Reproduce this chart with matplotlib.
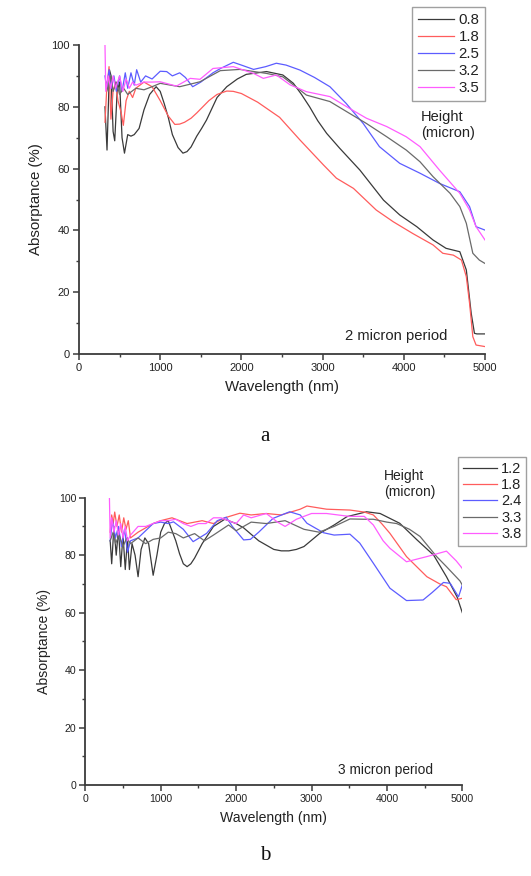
import matplotlib
matplotlib.use("Agg")
import matplotlib.pyplot as plt
from matplotlib.ticker import MultipleLocator

plt.rcParams['font.family'] = ['Liberation Sans', 'DejaVu Sans']

# ---------------- Panel a: 2 micron period ----------------
a_labels = ["0.8", "1.8", "2.5", "3.2", "3.5"]
a_h08_x = [320, 345, 375, 395, 420, 440, 470, 500, 530, 560, 600, 640, 680, 740, 800, 870, 950, 1000, 1050, 1100, 1150, 1220, 1280, 1330, 1380, 1450, 1510, 1570, 1700, 1820, 1950, 2060, 2310, 2510, 2640, 2740, 2840, 2940, 3050, 3210, 3460, 3750, 3950, 4160, 4360, 4520, 4690, 4770, 4830, 4870, 4900, 5000]
a_h08_y = [80, 66, 92, 90, 72, 69, 85, 88, 70, 65, 71, 70.5, 71, 73, 79, 84, 86.5, 85, 81, 76.5, 71, 66.8, 65, 65.5, 67, 70.5, 73, 75.7, 83, 86.5, 89, 90.5, 91.4, 90.3, 87.6, 84, 80, 75.5, 71.4, 66.6, 59.5, 49.8, 45, 41.2, 36.9, 34.2, 33.1, 27.2, 13.2, 6.7, 6.5, 6.5]
a_h18_x = [320, 340, 370, 393, 420, 450, 480, 520, 546, 580, 620, 660, 700, 800, 900, 1000, 1050, 1100, 1180, 1240, 1300, 1380, 1450, 1600, 1700, 1820, 1900, 2000, 2200, 2470, 2720, 3010, 3170, 3380, 3660, 3870, 4110, 4360, 4480, 4610, 4710, 4770, 4810, 4850, 4890, 5000]
a_h18_y = [75, 85, 93, 76, 85, 88, 82, 78, 74, 82, 85, 83, 86, 88, 86.5, 82, 79.5, 77, 74.3, 74.4, 75, 76.3, 78, 82, 84, 85.1, 85, 84.3, 81.5, 76.6, 69.3, 61.2, 56.9, 53.6, 46.6, 42.8, 39, 35.3, 32.6, 32, 30.4, 25, 16.4, 5.6, 2.9, 2.4]
a_h25_x = [320, 340, 370, 400, 430, 460, 500, 530, 570, 600, 640, 680, 710, 760, 820, 900, 1000, 1080, 1150, 1240, 1310, 1400, 1500, 1650, 1750, 1900, 2000, 2150, 2300, 2430, 2550, 2720, 2900, 3090, 3290, 3500, 3700, 3950, 4200, 4440, 4690, 4810, 4890, 5000]
a_h25_y = [90, 86, 92, 86, 90, 85, 90, 85, 91, 86, 91, 87, 92, 88, 90, 89, 91.5, 91.4, 90, 91, 89.5, 86.5, 88, 91, 92.5, 94.4, 93.5, 92.1, 93, 94.1, 93.5, 91.9, 89.5, 86.5, 81.1, 74.6, 67.1, 61.7, 58.5, 55.2, 52.5, 47.7, 41.2, 40.1]
a_h32_x = [330, 360, 390, 420, 460, 500, 550, 600, 650, 700, 800, 900, 1000, 1240, 1490, 1740, 1980, 2310, 2510, 2640, 2800, 3090, 3330, 3540, 3790, 4030, 4200, 4360, 4570, 4690, 4770, 4850, 4930, 5000]
a_h32_y = [88, 85, 90, 85, 88, 84, 86, 84, 85, 86, 85.5, 86.5, 87.6, 86.5, 88.1, 91.7, 92.1, 90.8, 89.7, 87.1, 83.8, 81.7, 77.9, 74.6, 70.3, 66, 62.2, 57.4, 52, 47.7, 42.3, 32.6, 30.4, 29.3]
a_h35_x = [320, 330, 360, 390, 420, 450, 500, 540, 580, 620, 660, 700, 800, 900, 1000, 1200, 1370, 1490, 1650, 1900, 2150, 2270, 2430, 2600, 2800, 3090, 3330, 3540, 3790, 4030, 4200, 4440, 4690, 4810, 4890, 5000]
a_h35_y = [100, 85, 90, 86, 90, 86, 90, 85, 89, 86, 88, 87, 88, 88, 88.1, 86.7, 89.2, 88.9, 92.4, 93, 90.8, 89.2, 90.3, 87.1, 84.9, 83.3, 79.5, 76.3, 73.6, 70.3, 67.1, 59.5, 52, 46.6, 41.2, 36.9]

# ---------------- Panel b: 3 micron period ----------------
b_labels = ["1.2", "1.8", "2.4", "3.3", "3.8"]
b_h12_x = [330, 350, 380, 410, 440, 470, 500, 530, 560, 585, 620, 660, 700, 740, 790, 840, 900, 950, 1000, 1050, 1100, 1200, 1250, 1300, 1350, 1400, 1450, 1550, 1700, 1850, 2000, 2100, 2300, 2500, 2600, 2700, 2800, 2900, 3110, 3300, 3470, 3730, 3910, 4170, 4400, 4620, 4790, 4930, 5000]
b_h12_y = [85, 77, 90, 80, 89, 76, 87, 75, 86, 75, 84, 80, 72.5, 82, 86, 84, 73, 80, 88, 91, 92, 85, 80.5, 77, 76, 77, 79, 84, 90, 92.5, 91, 89.5, 85, 82, 81.5, 81.5, 82, 83, 87.6, 90.5, 93.4, 95.1, 94.5, 91.1, 85.3, 80, 72.5, 65.5, 60]
b_h18_x = [330, 350, 370, 390, 420, 450, 480, 510, 540, 570, 600, 650, 700, 800, 900, 1000, 1150, 1350, 1550, 1700, 1850, 2050, 2200, 2400, 2600, 2850, 2940, 3200, 3510, 3700, 3820, 3930, 4040, 4260, 4530, 4700, 4790, 4920, 5000]
b_h18_y = [88, 94, 91, 95, 90, 94, 88, 93, 89, 92, 86, 87, 88, 89.5, 91, 92, 93, 91, 92, 91, 93, 94.6, 94, 94.5, 94, 96, 97.1, 96, 95.7, 95, 94, 91, 87.6, 79.5, 72.5, 70, 69, 64.5, 65]
b_h24_x = [330, 360, 400, 440, 480, 520, 560, 600, 700, 800, 900, 1000, 1100, 1170, 1300, 1430, 1610, 1750, 1870, 1950, 2100, 2190, 2300, 2490, 2710, 2850, 2940, 3160, 3300, 3510, 3640, 3820, 4040, 4260, 4480, 4600, 4750, 4840, 4950, 5000]
b_h24_y = [85, 92, 86, 90, 83, 89, 81, 85, 86, 88.5, 91, 91.5, 91, 91.6, 89, 84.7, 87.6, 92, 93.2, 90, 85.3, 85.5, 88, 92.8, 95.1, 94, 91.1, 87.8, 87, 87.3, 84.2, 77.2, 68.5, 64.2, 64.4, 67, 70.5, 70.2, 65.5, 69.6]
b_h33_x = [330, 370, 400, 450, 500, 550, 600, 700, 800, 900, 1000, 1100, 1200, 1300, 1450, 1580, 1700, 1900, 2000, 2200, 2400, 2650, 2900, 3100, 3300, 3510, 3700, 3820, 4000, 4130, 4300, 4440, 4660, 4790, 4970, 5000]
b_h33_y = [85, 88, 84, 87, 83, 86, 84, 86, 84, 85.5, 86, 88, 87.5, 86, 87.5, 85, 87, 90.5, 88.5, 91.5, 91, 92, 89, 88, 90, 92.6, 92.5, 92.5, 91.5, 91, 89, 86.5, 79.5, 76, 71, 69.6]
b_h38_x = [320, 330, 350, 380, 410, 440, 470, 500, 530, 560, 600, 700, 800, 900, 1000, 1100, 1200, 1300, 1400, 1500, 1600, 1700, 1800, 1900, 2000, 2100, 2200, 2400, 2550, 2650, 2800, 3000, 3200, 3500, 3700, 3820, 3950, 4040, 4260, 4530, 4790, 4920, 5000]
b_h38_y = [100, 86, 93, 88, 92, 87, 91, 86, 90, 85, 87, 90, 90, 91, 92, 92, 92.5, 91, 90, 91, 91, 93, 93, 92, 91, 94, 93, 94.5, 91.5, 90, 92.5, 94.5, 94.5, 93.5, 93.5, 90.5, 85, 82.4, 77.7, 79.5, 81.4, 78, 75.4]

colors = ["#3a3a3a", "#ff5c5c", "#5c5cff", "#6a6a6a", "#ff5cff"]

W, H = 531, 876
fig = plt.figure(figsize=(W / 100, H / 100), dpi=100)


def box(l, t, r, b):
    return [l / W, 1 - b / H, (r - l) / W, (b - t) / H]


def style(ax, fs):
    ax.set_xlim(0, 5000)
    ax.set_ylim(0, 100)
    ax.xaxis.set_major_locator(MultipleLocator(1000))
    ax.xaxis.set_minor_locator(MultipleLocator(500))
    ax.yaxis.set_major_locator(MultipleLocator(20))
    ax.yaxis.set_minor_locator(MultipleLocator(10))
    for s in ["top", "right"]:
        ax.spines[s].set_visible(False)
    for s in ["left", "bottom"]:
        ax.spines[s].set_color("#3c3c3c")
        ax.spines[s].set_linewidth(1.3)
    ax.tick_params(which="major", direction="out", length=4.5, width=1.1,
                   color="#3c3c3c", labelsize=fs, labelcolor="#222222", pad=2)
    ax.tick_params(which="minor", direction="out", length=2.5, width=1.0,
                   color="#3c3c3c")


# Panel a
ax1 = fig.add_axes(box(79, 45, 485, 354))
style(ax1, 8)
a_series = [(a_h08_x, a_h08_y), (a_h18_x, a_h18_y), (a_h25_x, a_h25_y),
            (a_h32_x, a_h32_y), (a_h35_x, a_h35_y)]
lines1 = []
for (xs, ys), lab, c in zip(a_series, a_labels, colors):
    ln, = ax1.plot(xs, ys, color=c, lw=0.9, label=lab)
    lines1.append(ln)
ax1.set_xlabel("Wavelength (nm)", fontsize=10.8, color="#222222", labelpad=5)
ax1.set_ylabel("Absorptance (%)", fontsize=10.8, color="#222222", labelpad=6)
leg1 = fig.legend(handles=lines1, loc="upper left",
                  bbox_to_anchor=(412 / W, 1 - 7 / H), fontsize=10.8,
                  frameon=True, fancybox=False, handlelength=2.4,
                  handletextpad=0.3, labelspacing=0.2, borderpad=0.4,
                  borderaxespad=0)
leg1.get_frame().set_edgecolor("#888888")
leg1.get_frame().set_linewidth(1.0)
for t in leg1.get_texts():
    t.set_color("#222222")
fig.text(421 / W, 1 - 125 / H, "Height\n(micron)", fontsize=10.5,
         color="#222222", ha="left", va="center", linespacing=1.15)
fig.text(396 / W, 1 - 336 / H, "2 micron period", fontsize=10.6,
         color="#222222", ha="center", va="center")
fig.text(265 / W, 1 - 437 / H, "a", fontsize=15, family="Liberation Serif",
         ha="center", va="center", color="#111111")

# Panel b
ax2 = fig.add_axes(box(85.3, 497.7, 462.3, 785))
style(ax2, 7.6)
b_series = [(b_h12_x, b_h12_y), (b_h18_x, b_h18_y), (b_h24_x, b_h24_y),
            (b_h33_x, b_h33_y), (b_h38_x, b_h38_y)]
lines2 = []
for (xs, ys), lab, c in zip(b_series, b_labels, colors):
    ln, = ax2.plot(xs, ys, color=c, lw=0.9, label=lab)
    lines2.append(ln)
ax2.set_xlabel("Wavelength (nm)", fontsize=10.1, color="#222222", labelpad=5)
ax2.set_ylabel("Absorptance (%)", fontsize=10.1, color="#222222", labelpad=6)
leg2 = fig.legend(handles=lines2, loc="upper left",
                  bbox_to_anchor=(458 / W, 1 - 457 / H), fontsize=10.5,
                  frameon=True, fancybox=False, handlelength=2.3,
                  handletextpad=0.3, labelspacing=0.15, borderpad=0.35,
                  borderaxespad=0)
leg2.get_frame().set_edgecolor("#888888")
leg2.get_frame().set_linewidth(1.0)
for t in leg2.get_texts():
    t.set_color("#222222")
fig.text(384 / W, 1 - 484 / H, "Height\n(micron)", fontsize=10,
         color="#222222", ha="left", va="center", linespacing=1.15)
fig.text(385 / W, 1 - 770 / H, "3 micron period", fontsize=9.9,
         color="#222222", ha="center", va="center")
fig.text(265 / W, 1 - 855 / H, "b", fontsize=15, family="Liberation Serif",
         ha="center", va="center", color="#111111")

fig.savefig("out.png", dpi=100)
